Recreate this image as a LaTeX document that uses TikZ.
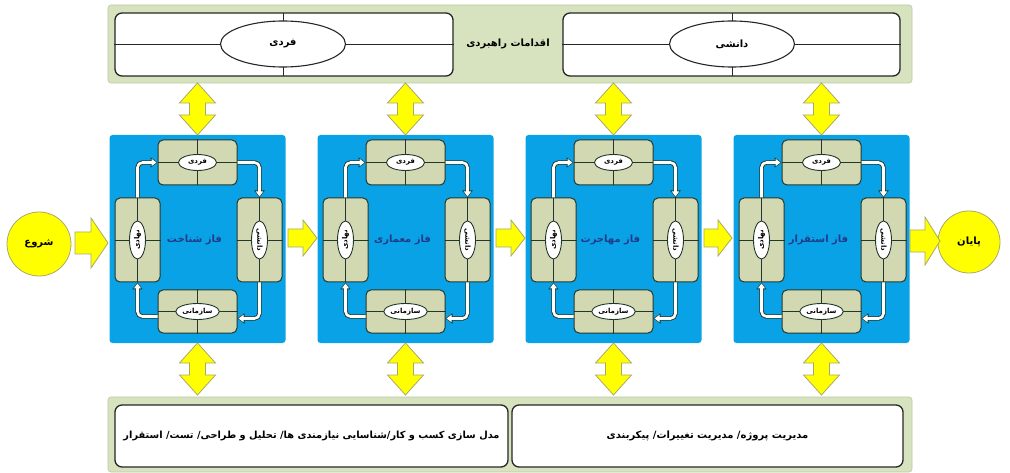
\documentclass[tikz,border=0pt]{standalone}
\usepackage{fontspec}
\usetikzlibrary{shapes.geometric,arrows.meta}
\TeXXeTstate=1
\newfontfamily\fa[Script=Arabic]{DejaVu Sans}
\definecolor{barg}{HTML}{D7E3BF}
\definecolor{bargd}{HTML}{B9C79B}
\definecolor{phblue}{HTML}{0AA2E6}
\definecolor{cardg}{HTML}{D2D9B2}
\definecolor{cardd}{HTML}{22372B}
\definecolor{ttlc}{HTML}{1F3B8A}
\definecolor{yel}{HTML}{FFFF00}
\definecolor{yeld}{HTML}{A9A86A}
\newcommand\yharrow[6]{% x1, xtip, yc, half body, half head, head length
  \draw[yarrow] (#1,{#3-#4}) -- ({#2-#6},{#3-#4}) -- ({#2-#6},{#3-#5}) -- (#2,#3)
    -- ({#2-#6},{#3+#5}) -- ({#2-#6},{#3+#4}) -- (#1,{#3+#4}) -- cycle;}
\newcommand\yvarrow[3]{% xc, ytop, ybot
  \draw[yarrow] (#1,#2) -- ({#1+18},{#2+20}) -- ({#1+8},{#2+20}) -- ({#1+8},{#3-20})
    -- ({#1+18},{#3-20}) -- (#1,#3) -- ({#1-18},{#3-20}) -- ({#1-8},{#3-20})
    -- ({#1-8},{#2+20}) -- ({#1-18},{#2+20}) -- cycle;}
\newcommand\phasebox[3]{% id, cx, title
  \node[phase] (ph#1) at (#2,239) {};
  \node[card, minimum width=79pt, minimum height=45pt] (t#1) at (#2,162.5) {};
  \node[card, minimum width=45pt, minimum height=84pt] (l#1) at ({#2-60},240) {};
  \node[card, minimum width=45pt, minimum height=84pt] (r#1) at ({#2+62},240) {};
  \node[card, minimum width=79pt, minimum height=43pt] (b#1) at (#2,311.5) {};
  \foreach \c in {t#1,l#1,r#1,b#1}{
    \draw[cardline] (\c.north) -- (\c.south) (\c.west) -- (\c.east);}
  \node[cell] (te#1) at (t#1) {\beginR فردی\endR};
  \node[cell, rotate=90] (le#1) at (l#1) {\beginR نهادی\endR};
  \node[cell, rotate=-90] (re#1) at (r#1) {\beginR دانشی\endR};
  \node[cell] (be#1) at (b#1) {\beginR سازمانی\endR};
  \node[ttl] (tt#1) at ({#2-3},240) {#3};
  \draw[loop] (t#1.east) -| (r#1.north);
  \draw[loop] (r#1.south) |- ([yshift=-7pt]b#1.east);
  \draw[loop] ([yshift=-5pt]b#1.west) -| (l#1.south);
  \draw[loop] (l#1.north) |- (t#1.west);
}
\begin{document}
\begin{tikzpicture}[x=1pt,y=-1pt,
  bar/.style={draw=bargd, fill=barg, line width=0.6pt, rounded corners=3pt, inner sep=0pt},
  wbox/.style={draw=black!85, fill=white, line width=1.3pt, rounded corners=7pt, inner sep=0pt},
  wline/.style={draw=black!85, line width=1pt},
  bigell/.style={ellipse, draw=black!85, fill=white, line width=1.1pt, minimum width=125pt, minimum height=46pt, inner sep=0pt, font=\fa\bfseries\fontsize{10}{11}\selectfont},
  phase/.style={fill=phblue, rounded corners=3pt, minimum width=176pt, minimum height=208pt, inner sep=0pt},
  card/.style={draw=cardd, fill=cardg, line width=1pt, rounded corners=5pt, inner sep=0pt},
  cardline/.style={draw=cardd, line width=0.9pt},
  cell/.style={ellipse, draw=cardd, fill=white, line width=0.9pt, minimum width=38pt, minimum height=16pt, inner sep=0.3pt, font=\fa\bfseries\fontsize{7}{8}\selectfont},
  ttl/.style={text=ttlc, font=\fa\bfseries\fontsize{10}{12}\selectfont},
  loop/.style={draw=white, line width=2.6pt, rounded corners=5pt, -{Triangle[length=5pt,width=7pt]}, shorten >=1pt,
     preaction={draw=cardd, line width=4.4pt, -{Triangle[length=7pt,width=10pt]}, shorten >=0pt}},
  yarrow/.style={draw=yeld, fill=yel, line width=0.8pt, line join=miter},
  circ/.style={circle, draw=yeld, fill=yel, line width=0.8pt, inner sep=0pt, font=\fa\bfseries\fontsize{10}{11}\selectfont},
  bartxt/.style={font=\fa\bfseries\fontsize{10}{11}\selectfont}
]
\useasboundingbox (0,0) rectangle (1010,473);
% top bar
\node[bar, minimum width=804pt, minimum height=78pt] (top) at (510,44) {};
\node[wbox, minimum width=338pt, minimum height=63pt] (tl) at (284,44.5) {};
\node[wbox, minimum width=337pt, minimum height=63pt] (tr) at (731.5,44.5) {};
\draw[wline] (283,13) -- (283,76) (tl.west) -- (tl.east);
\draw[wline] (732,13) -- (732,76) (tr.west) -- (tr.east);
\node[bigell] (e1) at (283,44) {\beginR فردی\endR};
\node[bigell] (e2) at (732,44) {\beginR دانشی\endR};
\node[bartxt] (toptxt) at (508,44) {\beginR اقدامات راهبردی\endR};
% bottom bar
\node[bar, minimum width=804pt, minimum height=75pt] (bot) at (510,434.5) {};
\node[wbox, minimum width=393pt, minimum height=62pt, font=\fa\bfseries\fontsize{9.8}{12}\selectfont] (bl) at (311.5,436) {\beginR مدل سازی کسب و کار/شناسایی نیازمندی ها/ تحلیل و طراحی/ تست/ استقرار\endR};
\node[wbox, minimum width=391pt, minimum height=62pt, font=\fa\bfseries\fontsize{10}{12}\selectfont] (br) at (707.5,436) {\beginR مدیریت پروژه/ مدیریت تغییرات/ پیکربندی\endR};
% phases
\phasebox{1}{197.5}{\beginR فاز شناخت\endR}
\phasebox{2}{405.5}{\beginR فاز معماری\endR}
\phasebox{3}{613.5}{\beginR فاز مهاجرت\endR}
\phasebox{4}{821.5}{\beginR فاز استقرار\endR}
% start / end
\node[circ, minimum size=64pt] (start) at (39,244) {\beginR شروع\endR};
\node[circ, minimum size=62pt] (end) at (969,242) {\beginR پایان\endR};
\yharrow{75}{108}{243}{11}{25}{17}
\yharrow{288}{317}{238}{9}{18}{14}
\yharrow{496}{525}{238}{9}{18}{14}
\yharrow{704}{732}{238}{9}{18}{14}
\yharrow{910}{940}{241}{11}{24}{15}
% vertical double arrows
\foreach \x in {197.5,405.5,613.5,821.5}{
  \yvarrow{\x}{83}{135}
  \yvarrow{\x}{343}{395}
}
\end{tikzpicture}
\end{document}
